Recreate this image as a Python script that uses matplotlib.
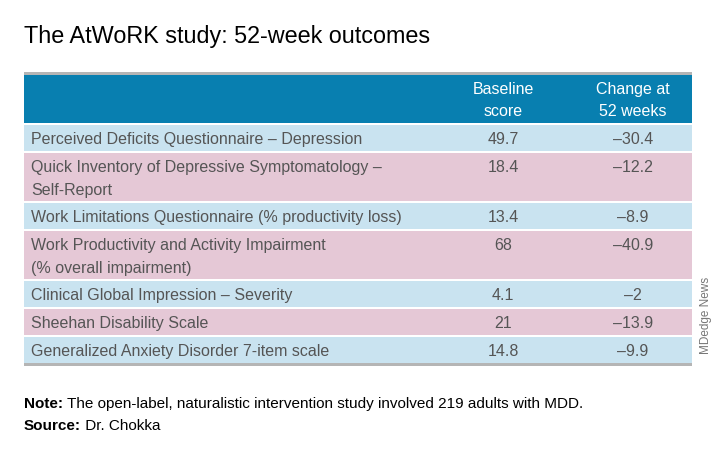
import matplotlib
matplotlib.use("Agg")
import matplotlib.pyplot as plt
from matplotlib.patches import Rectangle

# table data
measures = [
    "Perceived Deficits Questionnaire \u2013 Depression",
    "Quick Inventory of Depressive Symptomatology \u2013\nSelf-Report",
    "Work Limitations Questionnaire (% productivity loss)",
    "Work Productivity and Activity Impairment\n(% overall impairment)",
    "Clinical Global Impression \u2013 Severity",
    "Sheehan Disability Scale",
    "Generalized Anxiety Disorder 7-item scale",
]
baseline = [49.7, 18.4, 13.4, 68, 4.1, 21, 14.8]
change = [-30.4, -12.2, -8.9, -40.9, -2, -13.9, -9.9]
headers = ["Baseline\nscore", "Change at\n52 weeks"]

plt.rcParams['font.family'] = ['Liberation Sans', 'DejaVu Sans']


def fmt(v):
    s = "{:g}".format(abs(v))
    return "\u2013" + s if v < 0 else s


fig = plt.figure(figsize=(7.2, 4.56), dpi=100)
ax = fig.add_axes([0, 0, 1, 1])
ax.set_xlim(0, 720)
ax.set_ylim(456, 0)
ax.axis("off")

left, right = 24, 692
col1, col2 = 503, 633
blue = "#087fb0"
row_colors = ["#c9e3f0", "#e5c8d6"]
text_gray = "#555555"
fs = 11.5

# title
ax.text(left, 36, "The AtWoRK study: 52-week outcomes", fontsize=16.8,
        va="center", ha="left", color="black")

# header
ax.add_patch(Rectangle((left, 73), right - left, 2.5, color="#b5b5b5", lw=0))
ax.add_patch(Rectangle((left, 75.5), right - left, 48.5, color=blue, lw=0))
for x, h in zip([col1, col2], headers):
    ax.text(x, 100.5, h, ha="center", va="center", color="white",
            fontsize=fs, linespacing=1.55)

# rows
y = 126
for i, (m, b, c) in enumerate(zip(measures, baseline, change)):
    nlines = m.count("\n") + 1
    h = 26 if nlines == 1 else 48
    ax.add_patch(Rectangle((left, y), right - left, h, color=row_colors[i % 2], lw=0))
    if nlines == 1:
        ax.text(31, y + 13.5, m, ha="left", va="center", color=text_gray, fontsize=fs)
    else:
        ax.text(31, y + 6.5, m, ha="left", va="top", color=text_gray,
                fontsize=fs, linespacing=1.6)
    ax.text(col1, y + 13.5, fmt(b), ha="center", va="center", color=text_gray, fontsize=fs)
    ax.text(col2, y + 13.5, fmt(c), ha="center", va="center", color=text_gray, fontsize=fs)
    y += h + 2

ax.add_patch(Rectangle((left, y - 2), right - left, 2.5, color="#b5b5b5", lw=0))

# notes
note = ax.text(left, 404, "Note:", fontsize=11, va="center", ha="left", fontweight="bold")
ax.annotate(" The open-label, naturalistic intervention study involved 219 adults with MDD.",
            xy=(1, 0.5), xycoords=note, fontsize=11, va="center", ha="left")
src = ax.text(left, 426, "Source:", fontsize=11, va="center", ha="left", fontweight="bold")
ax.annotate(" Dr. Chokka", xy=(1, 0.5), xycoords=src, fontsize=11, va="center", ha="left")

ax.text(706, 315, "MDedge News", rotation=90, ha="center", va="center",
        fontsize=8.5, color="#777777")

fig.savefig("out.png", dpi=100)
